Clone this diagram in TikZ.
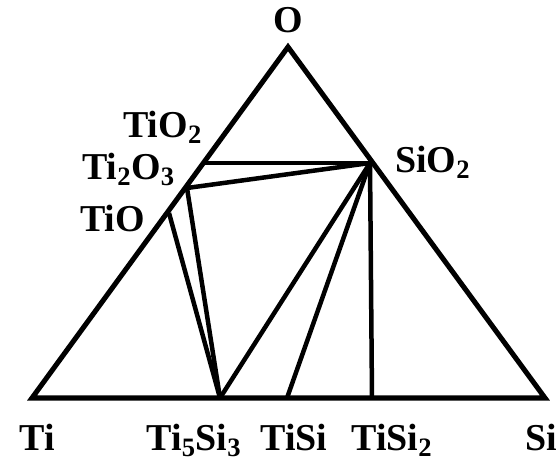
\documentclass[tikz,border=0pt]{standalone}
\usepackage{fontspec}
\setmainfont{Liberation Serif}
\usepackage{tikz}
\tikzset{
  phase/.style={inner sep=0pt, font=\fontsize{27}{30}\selectfont\bfseries, text=black},
  border/.style={line width=3.6pt, black},
  tie/.style={line width=3.2pt, black},
}

\begin{document}
\begin{tikzpicture}[x=0.025cm, y=-0.025cm]
  \useasboundingbox (0,0) rectangle (559,464);

  % corners of the Ti-Si-O triangle
  \coordinate (ti) at (32,398);
  \coordinate (si) at (545,398);
  \coordinate (o) at (288,47);

  % compounds on the edges
  \coordinate (tio2) at (204,163);
  \coordinate (ti2o3) at (187,188);
  \coordinate (tio) at (169,213);
  \coordinate (sio2) at (370,163);
  \coordinate (ti5si3) at (220,398);
  \coordinate (tisi) at (287,398);
  \coordinate (tisi2) at (372,398);

  \node[phase, anchor=base] (lo) at (288,33) {O};
  \node[phase, anchor=base west] (ltio2) at (123,138) {TiO\textsubscript{2}};
  \node[phase, anchor=base west] (lti2o3) at (82,180) {Ti\textsubscript{2}O\textsubscript{3}};
  \node[phase, anchor=base west] (ltio) at (80,232) {TiO};
  \node[phase, anchor=base west] (lsio2) at (395,173) {SiO\textsubscript{2}};
  \node[phase, anchor=base] (lti) at (37,451) {Ti};
  \node[phase, anchor=base] (lti5si3) at (194,451) {Ti\textsubscript{5}Si\textsubscript{3}};
  \node[phase, anchor=base] (ltisi) at (294,451) {TiSi};
  \node[phase, anchor=base] (ltisi2) at (392,451) {TiSi\textsubscript{2}};
  \node[phase, anchor=base] (lsi) at (541,451) {Si};

  \draw[tie] (tio2) -- (sio2);
  \draw[tie] (ti2o3) -- (sio2);
  \draw[tie] (ti2o3) -- (ti5si3);
  \draw[tie] (tio) -- (ti5si3);
  \draw[tie] (sio2) -- (ti5si3);
  \draw[tie] (sio2) -- (tisi);
  \draw[tie] (sio2) -- (tisi2);

  \draw[border] (ti) -- (si) -- (o) -- cycle;

\end{tikzpicture}
\end{document}
